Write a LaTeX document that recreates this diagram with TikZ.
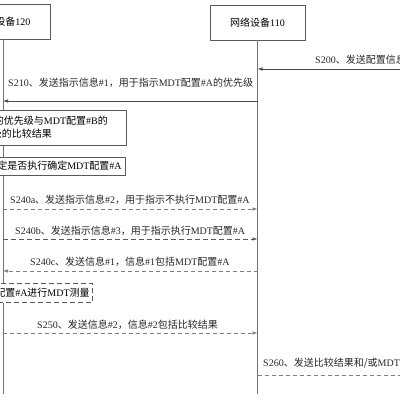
\documentclass[tikz,border=0pt]{standalone}
\usepackage{fontspec}
\setmainfont{Liberation Serif}
\newfontfamily\cjk{Noto Sans CJK SC}
\newcommand{\zh}[1]{{\cjk #1}}
\usetikzlibrary{arrows.meta}
\begin{document}
\begin{tikzpicture}[x=1pt,y=-1pt,font=\fontsize{10}{12}\selectfont,
  box/.style={draw=black!65, line width=0.6pt, fill=white, inner sep=3pt},
  dbox/.style={box, dashed, dash pattern=on 5pt off 3pt},
  life/.style={draw=black!55, line width=0.8pt},
  msg/.style={draw=black!70, line width=0.6pt, -{Latex[length=5pt,width=3.5pt]}},
  dmsg/.style={msg, draw=black!50, dash pattern=on 4pt off 3pt},
  lbl/.style={anchor=west, inner sep=0pt, text=black!85}]
\useasboundingbox (0,0) rectangle (400,400);
\clip (0,0) rectangle (400,400);

% entities
\node[box, minimum width=95pt, minimum height=35pt] (ue) at (3,21.5) {\zh{终端设备}120};
\node[box, minimum width=95pt, minimum height=35pt] (nw) at (257.5,22.5) {\zh{网络设备}110};

% lifelines
\coordinate (ueEnd) at (3,394);
\coordinate (nwEnd) at (257.5,394);
\draw[life] (ue.south) -- (ueEnd);
\draw[life] (nw.south) -- (nwEnd);

% S200
\coordinate (o200) at (410,69);
\draw[msg] (o200) -- (o200 -| nw.south);
\node[lbl] (l200) at (315,60) {S200\zh{、发送配置信息}};

% S210
\coordinate (o210) at (257.5,101);
\draw[msg] (o210) -- (o210 -| ue.south);
\node[lbl] (l210) at (8,83) {S210\zh{、发送指示信息}\#1\zh{，用于指示}MDT\zh{配置}\#A\zh{的优先级}};

% S220 box
\node[box, minimum width=246pt, minimum height=35pt] (b220) at (3,127.5) {};
\node[anchor=east, inner sep=0pt] (t220a) at (108,121) {S220\zh{、确定}MDT\zh{配置}\#A\zh{的优先级与}MDT\zh{配置}\#B\zh{的}};
\node[anchor=east, inner sep=0pt] (t220b) at (52,134) {\zh{优先级的比较结果}};

% S230 box
\node[box, anchor=east, minimum height=18pt, inner sep=4pt] (b230) at (126,166) {S230\zh{、确定是否执行确定}MDT\zh{配置}\#A};

% S240a
\coordinate (o240a) at (3,209);
\draw[dmsg] (o240a) -- (o240a -| nw.south);
\node[lbl] (l240a) at (10,200) {S240a\zh{、发送指示信息}\#2\zh{，用于指示不执行}MDT\zh{配置}\#A};

% S240b
\coordinate (o240b) at (3,239);
\draw[dmsg, draw=black!65, dash pattern=on 5pt off 3pt] (o240b) -- (o240b -| nw.south);
\node[lbl] (l240b) at (15,231) {S240b\zh{、发送指示信息}\#3\zh{，用于指示执行}MDT\zh{配置}\#A};

% S240c
\coordinate (o240c) at (257.5,271);
\draw[dmsg] (o240c) -- (o240c -| ue.south);
\node[lbl] (l240c) at (30,262) {S240c\zh{、发送信息}\#1\zh{，信息}\#1\zh{包括}MDT\zh{配置}\#A};

% measurement box
\node[dbox, anchor=east, minimum height=19pt, inner sep=3pt] (bmeas) at (93,293) {\zh{根据}MDT\zh{配置}\#A\zh{进行}MDT\zh{测量}};

% S250
\coordinate (o250) at (3,333);
\draw[dmsg] (o250) -- (o250 -| nw.south);
\node[lbl] (l250) at (37,325) {S250\zh{、发送信息}\#2\zh{，信息}\#2\zh{包括比较结果}};

% S260
\coordinate (o260) at (410,375);
\draw[dmsg] (o260 -| nw.south) -- (o260);
\node[lbl] (l260) at (263,363) {S260\zh{、发送比较结果和/或}MDT\zh{测量结果}};
\end{tikzpicture}
\end{document}
